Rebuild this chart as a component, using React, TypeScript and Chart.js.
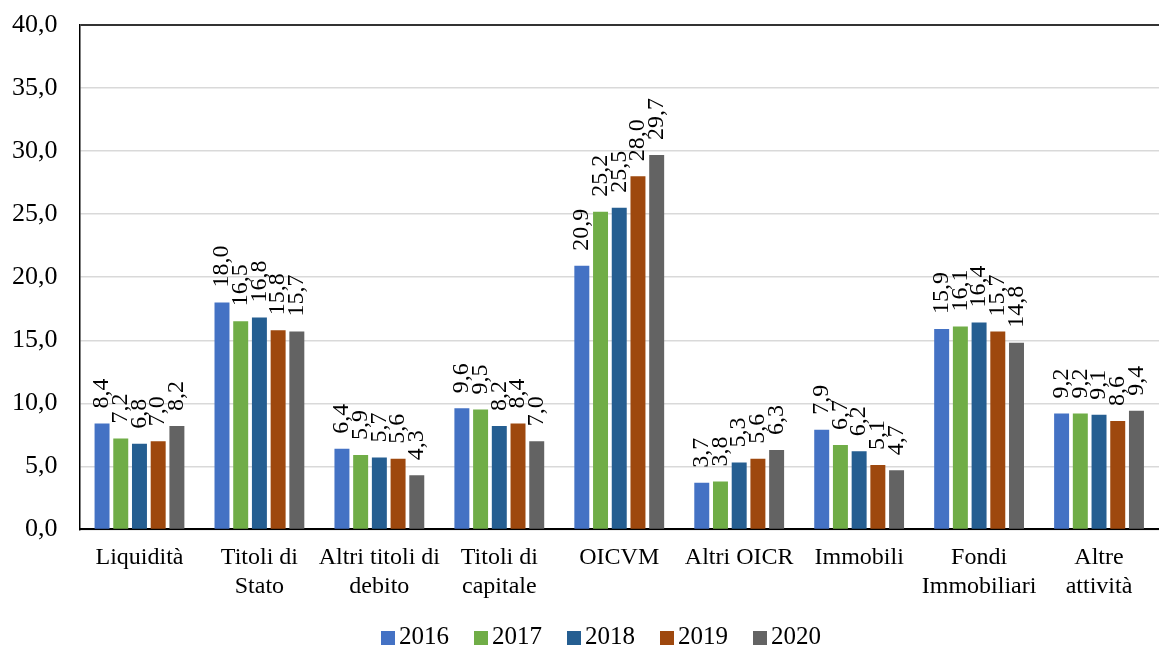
import React, { useEffect, useRef } from "react";
import { Chart, registerables } from "chart.js";

Chart.register(...registerables);

const categories: string[][] = [
  ["Liquidità"],
  ["Titoli di", "Stato"],
  ["Altri titoli di", "debito"],
  ["Titoli di", "capitale"],
  ["OICVM"],
  ["Altri OICR"],
  ["Immobili"],
  ["Fondi", "Immobiliari"],
  ["Altre", "attività"],
];

const years = ["2016", "2017", "2018", "2019", "2020"];
const colors = ["#4472C4", "#70AD47", "#255E91", "#9E480E", "#636363"];

const s2016 = [8.4, 18.0, 6.4, 9.6, 20.9, 3.7, 7.9, 15.9, 9.2];
const s2017 = [7.2, 16.5, 5.9, 9.5, 25.2, 3.8, 6.7, 16.1, 9.2];
const s2018 = [6.8, 16.8, 5.7, 8.2, 25.5, 5.3, 6.2, 16.4, 9.1];
const s2019 = [7.0, 15.8, 5.6, 8.4, 28.0, 5.6, 5.1, 15.7, 8.6];
const s2020 = [8.2, 15.7, 4.3, 7.0, 29.7, 6.3, 4.7, 14.8, 9.4];

const series = [s2016, s2017, s2018, s2019, s2020];

const fmt = (v: number) => v.toFixed(1).replace(".", ",");

const FONT = "'Liberation Serif', 'Times New Roman', serif";

const labelPlugin = {
  id: "rotLabels",
  afterDatasetsDraw(chart: any) {
    const ctx = chart.ctx;
    ctx.save();
    ctx.font = `24px ${FONT}`;
    ctx.fillStyle = "#000";
    chart.data.datasets.forEach((ds: any, i: number) => {
      const meta = chart.getDatasetMeta(i);
      meta.data.forEach((el: any, j: number) => {
        const v = ds.data[j];
        ctx.save();
        ctx.translate(el.x, el.y - 15);
        ctx.rotate(-Math.PI / 2);
        ctx.textAlign = "left";
        ctx.textBaseline = "middle";
        ctx.fillText(fmt(v), 0, 0);
        ctx.restore();
      });
    });
    ctx.restore();
  },
};

const legendPlugin = {
  id: "customLegend",
  afterDraw(chart: any) {
    const ctx = chart.ctx;
    ctx.save();
    ctx.font = `25px ${FONT}`;
    ctx.textBaseline = "middle";
    ctx.textAlign = "left";
    const box = 14;
    const gap = 4;
    const spacing = 25;
    const widths = chart.data.datasets.map((ds: any) => box + gap + ctx.measureText(ds.label).width);
    const total = widths.reduce((a: number, b: number) => a + b, 0) + spacing * (widths.length - 1);
    let x = 601 - total / 2;
    const y = 637;
    chart.data.datasets.forEach((ds: any, i: number) => {
      ctx.fillStyle = ds.backgroundColor;
      ctx.fillRect(x, y - box / 2 + 1, box, box);
      ctx.fillStyle = "#000";
      ctx.fillText(ds.label, x + box + gap, y);
      x += widths[i] + spacing;
    });
    ctx.restore();
  },
};

export default function App() {
  const ref = useRef<HTMLCanvasElement | null>(null);
  useEffect(() => {
    document.body.style.margin = "0";
    const chart = new Chart(ref.current as HTMLCanvasElement, {
      type: "bar",
      data: {
        labels: categories,
        datasets: series.map((d, i) => ({
          label: years[i],
          data: d,
          backgroundColor: colors[i],
          borderWidth: 0,
          categoryPercentage: 0.78,
          barPercentage: 0.8,
        })),
      },
      options: {
        animation: false,
        responsive: false,
        maintainAspectRatio: false,
        layout: { padding: { left: -10, top: 25, right: 0, bottom: 41 } },
        plugins: {
          legend: { display: false },
          tooltip: { enabled: false },
        },
        scales: {
          x: {
            grid: { display: false },
            border: { display: true, color: "#000", width: 2 },
            ticks: {
              color: "#000",
              font: { family: FONT, size: 24, lineHeight: 1.2 },
              padding: 6,
              maxRotation: 0,
              autoSkip: false,
            },
          },
          y: {
            min: 0,
            max: 40,
            grid: {
              drawTicks: false,
              color: (c: any) => (c.tick && c.tick.value === 40 ? "#333" : "#d9d9d9"),
              lineWidth: (c: any) => (c.tick && c.tick.value === 40 ? 2 : 1.5),
            },
            border: { display: true, color: "#000", width: 1.5 },
            ticks: {
              stepSize: 5,
              color: "#000",
              font: { family: FONT, size: 26, lineHeight: 0.1 },
              padding: 22,
              callback: (v: any) => fmt(Number(v)),
            },
          },
        },
      },
      plugins: [labelPlugin, legendPlugin],
    });
    return () => chart.destroy();
  }, []);
  return (
    <div style={{ width: 1159, height: 648 }}>
      <canvas ref={ref} width={1159} height={648} style={{ display: "block" }} />
    </div>
  );
}
